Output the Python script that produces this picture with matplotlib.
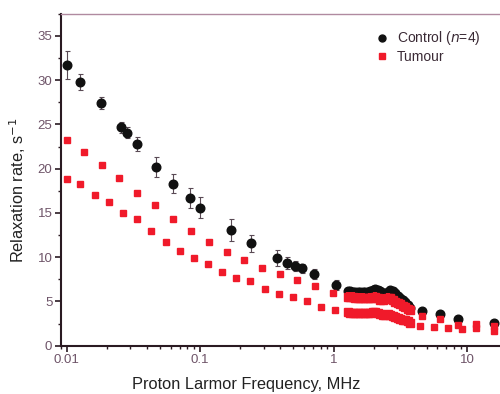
import matplotlib
matplotlib.use("Agg")
import matplotlib.pyplot as plt
from matplotlib.ticker import MultipleLocator, LogLocator, NullFormatter
from matplotlib.lines import Line2D

# ---- data ----
# dense stretch of frequencies (MHz) between ~1.3 and ~3.8
band_freq = [1.280, 1.336, 1.395, 1.457, 1.521, 1.588, 1.658, 1.731, 1.807, 1.887,
             1.970, 2.057, 2.147, 2.242, 2.341, 2.443, 2.551, 2.664, 2.781, 2.904,
             3.032, 3.166, 3.305, 3.451, 3.603, 3.762]

ctrl_freq = [0.01, 0.0126, 0.018, 0.0255, 0.0284, 0.0337, 0.0467, 0.0622, 0.0833, 0.1,
             0.169, 0.239, 0.374, 0.445, 0.515, 0.582, 0.716, 1.035,
             4.61, 6.27, 8.57, 16.0]
ctrl_rate = [31.7, 29.8, 27.4, 24.65, 24.05, 22.77, 20.2, 18.3, 16.7, 15.6,
             13.06, 11.56, 9.95, 9.37, 9.0, 8.74, 8.1, 6.85,
             3.9, 3.58, 3.0, 2.53]
ctrl_err = [1.6, 0.9, 0.7, 0.6, 0.6, 0.8, 1.1, 1.1, 1.1, 1.2,
            1.2, 1.0, 0.9, 0.7, 0.6, 0.5, 0.6, 0.6,
            0.4, 0.3, 0.3, 0.3]
ctrl_band = [6.14, 6.14, 6.12, 6.12, 6.1, 6.1, 6.08, 6.1, 6.12, 6.2,
             6.32, 6.4, 6.3, 6.15, 6.0, 5.92, 6.1, 6.3, 6.2, 5.95,
             5.6, 5.4, 5.15, 4.95, 4.6, 4.3]

tum_a_freq = [0.01, 0.0135, 0.0185, 0.0248, 0.0338, 0.0459, 0.0622, 0.0853, 0.116, 0.158,
              0.214, 0.29, 0.396, 0.533, 0.727, 0.993,
              4.61, 6.27, 8.57, 11.6, 16.0]
tum_a_rate = [23.2, 21.9, 20.37, 18.97, 17.27, 15.85, 14.27, 12.95, 11.67, 10.6,
              9.64, 8.8, 8.06, 7.42, 6.78, 5.9,
              3.35, 3.0, 2.33, 2.5, 2.2]
tum_a_band = [5.5, 5.48, 5.46, 5.44, 5.42, 5.4, 5.38, 5.34, 5.34, 5.38,
              5.44, 5.48, 5.34, 5.2, 5.13, 5.24, 5.4, 5.34, 5.16, 4.98,
              4.8, 4.66, 4.5, 4.36, 4.18, 4.0]

tum_b_freq = [0.01, 0.0126, 0.0163, 0.0207, 0.0265, 0.0334, 0.0429, 0.0552, 0.0706, 0.09,
              0.115, 0.146, 0.187, 0.236, 0.304, 0.387, 0.493, 0.631, 0.804, 1.02,
              4.43, 5.64, 7.2, 9.25, 11.6, 16.0]
tum_b_rate = [18.8, 18.3, 17.0, 16.26, 15.02, 14.27, 12.98, 11.67, 10.69, 9.86,
              9.22, 8.36, 7.61, 7.3, 6.4, 5.84, 5.46, 5.08, 4.4, 4.03,
              2.22, 2.15, 1.96, 1.88, 1.95, 1.7]
tum_b_band = [3.75, 3.74, 3.72, 3.7, 3.7, 3.68, 3.66, 3.65, 3.66, 3.7,
              3.75, 3.78, 3.7, 3.6, 3.52, 3.5, 3.55, 3.45, 3.35, 3.25,
              3.15, 3.05, 2.95, 2.85, 2.75, 2.62]

black = "#111111"
red = "#f01a2a"
axis_col = "#2a1a22"
tick_col = "#6e5468"

plt.rcParams["font.family"] = ["Liberation Sans", "DejaVu Sans"]

fig = plt.figure(figsize=(5.0, 3.94), dpi=100)
ax = fig.add_axes([0.1214, 0.1226, 0.8786, 0.8426])

# control
ax.errorbar(ctrl_freq, ctrl_rate, yerr=ctrl_err, fmt="o", color=black, ms=6.2,
            ecolor="#5a4a55", elinewidth=0.8, capsize=1.8, capthick=0.8, zorder=3)
ax.errorbar(band_freq, ctrl_band, yerr=0.3, fmt="o", color=black, ms=6.2,
            ecolor="#5a4a55", elinewidth=0.8, capsize=1.5, capthick=0.8, zorder=3)
# tumour (two sets of points)
for f, r in [(tum_a_freq, tum_a_rate), (tum_b_freq, tum_b_rate)]:
    ax.errorbar(f, r, yerr=0.3, fmt="s", color=red, ms=5.0, mec=red,
                ecolor=red, elinewidth=1.0, capsize=0, zorder=4)
ax.errorbar(band_freq, tum_a_band, yerr=0.55, fmt="s", color=red, ms=5.5, mec=red,
            ecolor=red, elinewidth=3.0, capsize=0, zorder=4)
ax.errorbar(band_freq, tum_b_band, yerr=0.2, fmt="s", color=red, ms=5.5, mec=red,
            ecolor=red, elinewidth=3.0, capsize=0, zorder=4)

ax.set_xscale("log")
ax.set_xlim(0.0090, 17.7)
ax.set_ylim(0, 37.5)

ax.set_xticks([0.01, 0.1, 1, 10])
ax.set_xticklabels(["0.01", "0.1", "1", "10"])
ax.xaxis.set_minor_locator(LogLocator(base=10, subs=range(2, 10)))
ax.xaxis.set_minor_formatter(NullFormatter())
ax.yaxis.set_major_locator(MultipleLocator(5))
ax.yaxis.set_minor_locator(MultipleLocator(2.5))

ax.tick_params(which="major", direction="out", length=4, width=1.2,
               color=axis_col, labelsize=9.5, labelcolor=tick_col, pad=2)
ax.tick_params(which="minor", direction="out", length=2.5, width=1.0, color=axis_col)

for s in ["left", "bottom"]:
    ax.spines[s].set_color(axis_col)
    ax.spines[s].set_linewidth(1.5)
ax.spines["right"].set_visible(False)
ax.spines["top"].set_color("#b08aa0")
ax.spines["top"].set_linewidth(1.0)
ax.spines["top"].set_linestyle((0, (2, 1)))

ax.set_xlabel("Proton Larmor Frequency, MHz", fontsize=11.8, color="#222222")
ax.xaxis.set_label_coords(0.422, -0.095)
ax.set_ylabel("Relaxation rate, s$^{-1}$", fontsize=11.8, color="#222222")
ax.yaxis.set_label_coords(-0.074, 0.469)

handles = [Line2D([], [], marker="o", ls="", color=black, ms=5),
           Line2D([], [], marker="s", ls="", color=red, ms=4.5)]
ax.legend(handles, ["Control ($n$=4)", "Tumour"], loc="upper left",
          bbox_to_anchor=(0.725, 0.957), bbox_transform=fig.transFigure,
          frameon=False, fontsize=10, handletextpad=0.6, labelspacing=0.15,
          handlelength=1.0, labelcolor="#3a2a35")

fig.savefig("out.png", dpi=100)
